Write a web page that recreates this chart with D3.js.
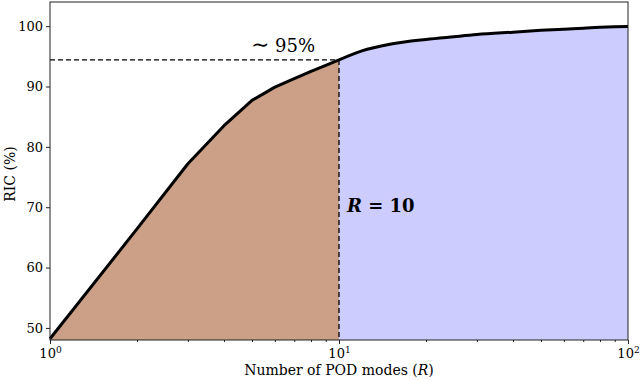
<!DOCTYPE html>
<html>
<head>
<meta charset="utf-8">
<script src="https://cdn.jsdelivr.net/npm/d3@7"></script>
<style>
  body { margin: 0; background: #fff; }
  text { font-family: "DejaVu Serif", serif; fill: #000; }
</style>
</head>
<body>
<div id="chart"></div>
<script>
var W = 640, H = 380
var margin = {left: 50, right: 12, top: 2, bottom: 40}

// number of modes and cumulative RIC (%)
var modes = [1, 2, 3, 4, 5, 6, 7, 8, 9, 10, 12, 15, 20, 25, 30, 40, 50, 60, 70, 80, 90, 100]
var ric   = [48.2, 66.4, 77.2, 83.5, 87.7, 89.9, 91.3, 92.5, 93.5, 94.4,
             95.9, 97.0, 97.8, 98.25, 98.6, 99.0, 99.3, 99.5, 99.65, 99.8, 99.9, 99.95]
var cutoff = 10
var yTicks = [50, 60, 70, 80, 90, 100]
var xMajor = [1, 10, 100]

var data = modes.map(function(r, i){ return {r: r, v: ric[i]} })
var head = data.filter(function(d){ return d.r <= cutoff })
var tail = data.filter(function(d){ return d.r >= cutoff })

var svg = d3.select("#chart").append("svg").attr("width", W).attr("height", H)

var x = d3.scaleLog().domain([1, 100]).range([margin.left, W - margin.right])
var y = d3.scaleLinear().domain([48, 104]).range([H - margin.bottom, margin.top])

function area(curve) {
    return d3.area().curve(curve)
        .x(function(d){ return x(d.r) })
        .y0(y(48))
        .y1(function(d){ return y(d.v) })
}
function line(curve) {
    return d3.line().curve(curve)
        .x(function(d){ return x(d.r) })
        .y(function(d){ return y(d.v) })
}

svg.append("path").datum(head).attr("d", area(d3.curveLinear)).attr("fill", "#cca086")
svg.append("path").datum(tail).attr("d", area(d3.curveMonotoneX)).attr("fill", "#ccccff")

var vCut = ric[modes.indexOf(cutoff)]

// dashed guides
svg.append("line")
    .attr("x1", x(1)).attr("x2", x(cutoff))
    .attr("y1", y(vCut)).attr("y2", y(vCut))
    .attr("stroke", "#000").attr("stroke-width", 1.3).attr("stroke-dasharray", "5,3")
svg.append("line")
    .attr("x1", x(cutoff)).attr("x2", x(cutoff))
    .attr("y1", y(vCut)).attr("y2", y(48))
    .attr("stroke", "#000").attr("stroke-width", 1.3).attr("stroke-dasharray", "5,3")

// curve (straight segments for the first modes, smooth after)
svg.append("path").datum(head).attr("d", line(d3.curveLinear))
    .attr("fill", "none").attr("stroke", "#000").attr("stroke-width", 3).attr("stroke-linejoin", "round")
svg.append("path").datum(tail).attr("d", line(d3.curveMonotoneX))
    .attr("fill", "none").attr("stroke", "#000").attr("stroke-width", 3).attr("stroke-linejoin", "round")

// axes
var minor = []
;[1, 10].forEach(function(b){ d3.range(2, 10).forEach(function(k){ minor.push(b * k) }) })

var gx = svg.append("g").attr("transform", "translate(0," + (H - margin.bottom) + ")")
gx.call(d3.axisBottom(x).tickValues(minor).tickSize(2).tickFormat(""))
gx.select(".domain").remove()
var gx2 = svg.append("g").attr("transform", "translate(0," + (H - margin.bottom) + ")")
gx2.call(d3.axisBottom(x).tickValues(xMajor).tickSize(4).tickFormat(""))
gx2.select(".domain").remove()
gx2.selectAll(".tick").each(function(d){
    var t = d3.select(this).append("text").attr("y", 18).attr("text-anchor", "middle")
        .style("font-size", "13px")
    t.append("tspan").text("10")
    t.append("tspan").attr("dy", -5).style("font-size", "9px").text(Math.round(Math.log10(d)))
})

var gy = svg.append("g").attr("transform", "translate(" + margin.left + ",0)")
gy.call(d3.axisLeft(y).tickValues(yTicks).tickSize(4).tickPadding(3))
gy.select(".domain").remove()
gy.selectAll("text").style("font-size", "13px")

svg.selectAll(".tick line").attr("stroke", "#222")

// frame
svg.append("rect")
    .attr("x", margin.left).attr("y", margin.top)
    .attr("width", W - margin.left - margin.right).attr("height", H - margin.top - margin.bottom)
    .attr("fill", "none").attr("stroke", "#222").attr("stroke-width", 1)

// annotations
var pct = svg.append("text").attr("x", 283).attr("y", 52).attr("text-anchor", "middle")
    .style("font-size", "18px")
pct.append("tspan").style("font-size", "22px").text("∼")
pct.append("tspan").text(" 95%")
var rl = svg.append("text").attr("x", x(cutoff) + 8).attr("y", 212)
    .style("font-size", "18px").style("font-weight", "bold")
rl.append("tspan").style("font-style", "italic").text("R")
rl.append("tspan").text(" = 10")

// axis labels
var xl = svg.append("text").attr("x", x(10)).attr("y", 375).attr("text-anchor", "middle")
    .style("font-size", "14px")
xl.append("tspan").text("Number of POD modes (")
xl.append("tspan").style("font-style", "italic").text("R")
xl.append("tspan").text(")")

svg.append("text").attr("transform", "translate(15," + y(75.5) + ") rotate(-90)")
    .attr("text-anchor", "middle").style("font-size", "14px").text("RIC (%)")
</script>
</body>
</html>
